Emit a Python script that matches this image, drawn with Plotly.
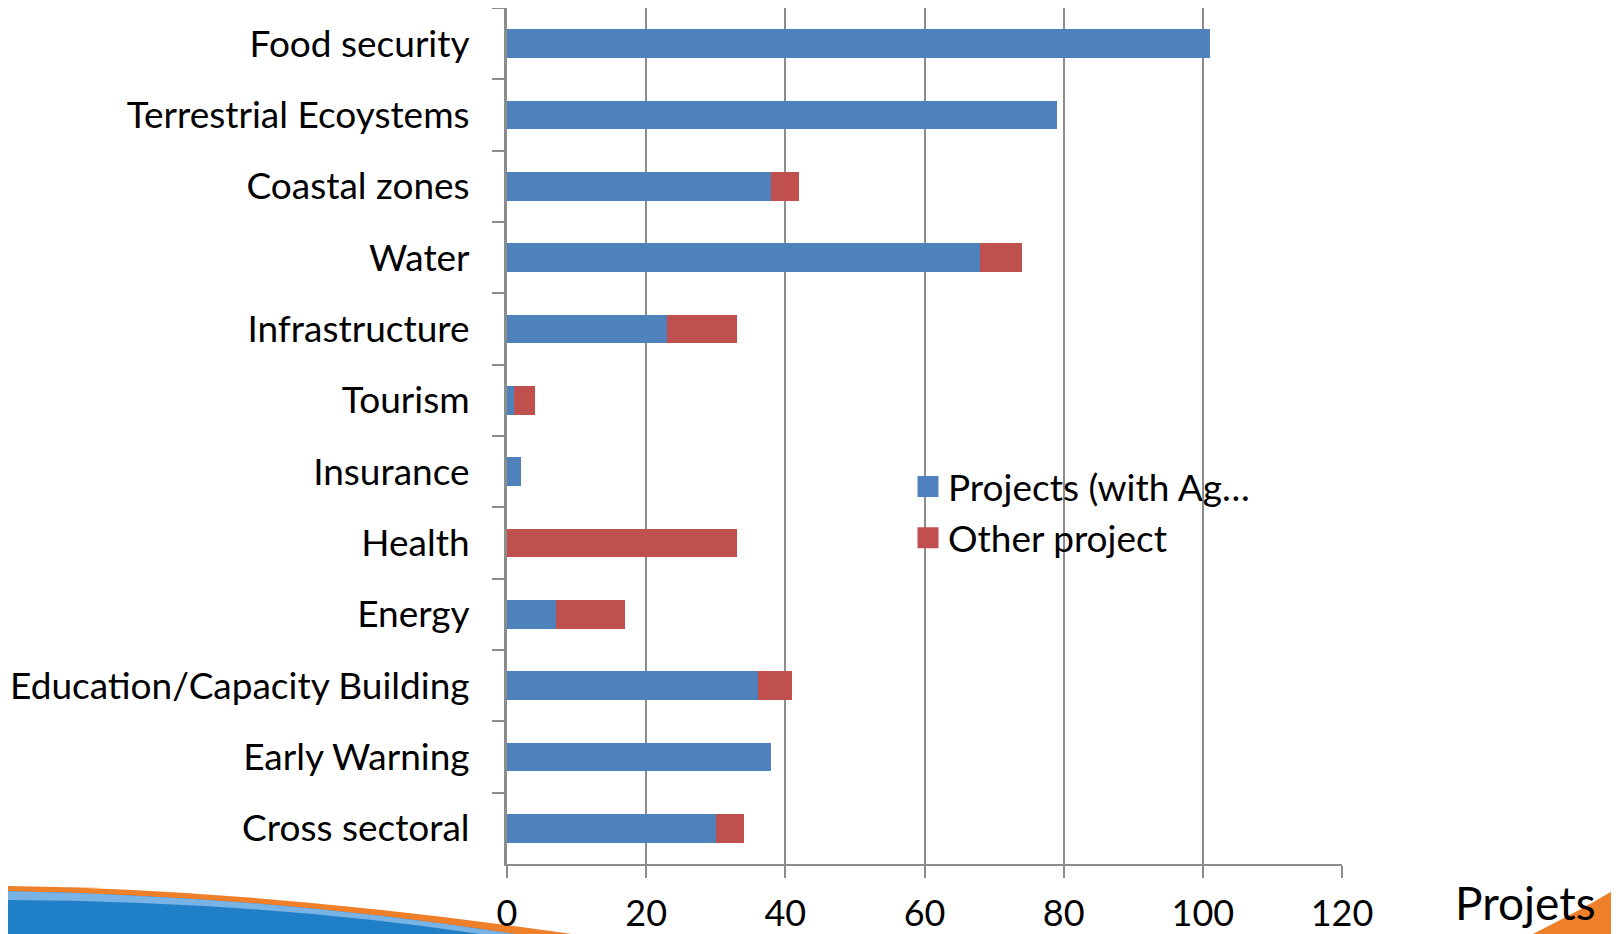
import plotly.graph_objects as go

categories = ["Food security", "Terrestrial Ecoystems", "Coastal zones", "Water",
              "Infrastructure", "Tourism", "Insurance", "Health", "Energy",
              "Education/Capacity Building", "Early Warning", "Cross sectoral"]
projects_ag = [101, 79, 38, 68, 23, 1, 2, 0, 7, 36, 38, 30]
other_projects = [0, 0, 4, 6, 10, 3, 0, 33, 10, 5, 0, 4]
series_names = ["Projects (with Ag\u2026", "Other project"]
series_colors = ["#4F81BD", "#C0504D"]
x_ticks = [0, 20, 40, 60, 80, 100, 120]

OFF = 8  # browser body margin
W, H = 1619 - OFF, 934 - OFF
L, T = 507 - OFF, 8 - OFF
pw, ph = 835, 856
R = W - L - pw
B = H - T - ph

def px(x):
    return (x - OFF - L) / pw

def py(y):
    return (H - B - (y - OFF)) / ph

FONT = "Lato"
fig = go.Figure()
for vals, name, col in zip([projects_ag, other_projects], series_names, series_colors):
    fig.add_trace(go.Bar(y=categories, x=vals, orientation="h", name=name, showlegend=False,
                         marker=dict(color=col, line=dict(width=0)), width=0.4))
for name, col in zip(series_names, series_colors):
    fig.add_trace(go.Scatter(x=[None], y=[None], mode="markers", name=name, showlegend=True,
                             marker=dict(symbol="square", size=16, color=col,
                                         line=dict(color=col, width=5))))

# decorative slide swooshes
fig.add_shape(type="path", xref="paper", yref="paper", layer="below",
              path=f"M {px(0)},{py(886)} Q {px(260)},{py(889)} {px(572)},{py(934)} L {px(0)},{py(934)} Z",
              fillcolor="#F07F2A", line=dict(width=0))
fig.add_shape(type="path", xref="paper", yref="paper", layer="below",
              path=f"M {px(0)},{py(891)} Q {px(260)},{py(895)} {px(515)},{py(934)} L {px(0)},{py(934)} Z",
              fillcolor="#1F80C8", line=dict(width=0))
fig.add_shape(type="path", xref="paper", yref="paper", layer="below",
              path=f"M {px(0)},{py(891)} Q {px(260)},{py(895)} {px(515)},{py(934)} L {px(480)},{py(934)} Q {px(260)},{py(901)} {px(0)},{py(900)} Z",
              fillcolor="#79B3E6", line=dict(width=0))
fig.add_shape(type="path", xref="paper", yref="paper", layer="below",
              path=f"M {px(1533)},{py(934)} Q {px(1585)},{py(908)} {px(1619)},{py(887)} L {px(1619)},{py(934)} Z",
              fillcolor="#F07F2A", line=dict(width=0))

fig.add_annotation(text="Projets", xref="paper", yref="paper", x=px(1453), y=py(902),
                   xanchor="left", yanchor="middle", showarrow=False,
                   font=dict(family=FONT, size=46, color="black"))

fig.update_layout(
    width=W, height=H, barmode="stack",
    margin=dict(l=L, r=R, t=T, b=B, autoexpand=False),
    paper_bgcolor="rgba(0,0,0,0)", plot_bgcolor="rgba(0,0,0,0)",
    font=dict(family=FONT, size=37, color="black"),
    showlegend=True,
    legend=dict(x=px(908), y=py(456), xanchor="left", yanchor="top",
                bgcolor="rgba(0,0,0,0)", font=dict(family=FONT, size=37),
                itemwidth=30, tracegroupgap=0, traceorder="normal"),
    xaxis=dict(range=[0, 120], tickvals=x_ticks, showgrid=True, gridcolor="#8C8C8C", gridwidth=2,
               showline=True, linecolor="#8C8C8C", linewidth=2, ticks="outside", ticklen=12,
               tickcolor="#8C8C8C", tickwidth=2, zeroline=False, ticklabelstandoff=5,
               tickfont=dict(family=FONT, size=36, color="black")),
    yaxis=dict(categoryorder="array", categoryarray=categories, autorange="reversed",
               showline=True, linecolor="#8C8C8C", linewidth=3, ticks="outside", ticklen=12,
               tickcolor="#8C8C8C", tickwidth=2, tickson="boundaries", showgrid=False,
               ticklabelstandoff=27, tickfont=dict(family=FONT, size=37, color="black")),
)

fig.write_html("out.html")
